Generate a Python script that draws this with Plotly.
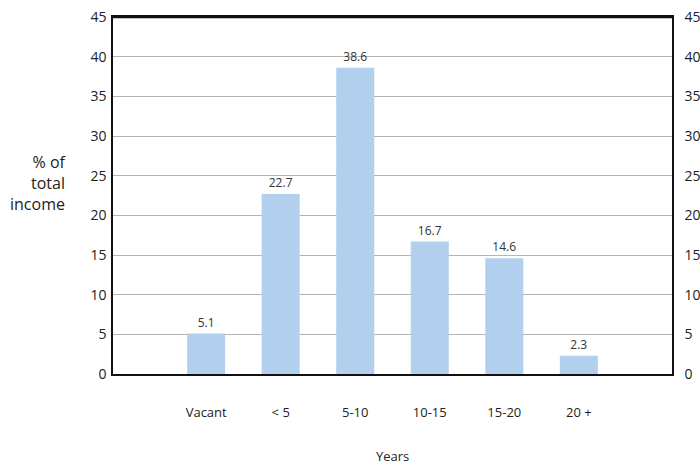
import plotly.graph_objects as go

# Share of total income by years remaining
categories = ["Vacant", "< 5", "5-10", "10-15", "15-20", "20 +"]
values = [5.1, 22.7, 38.6, 16.7, 14.6, 2.3]
y_ticks = [0, 5, 10, 15, 20, 25, 30, 35, 40, 45]

FONT = "Open Sans, Lato, sans-serif"
TEXT = "#222222"

fig = go.Figure()
fig.add_trace(go.Bar(
    x=categories,
    y=values,
    width=0.51,
    marker=dict(color="#b3cfee", line=dict(width=0)),
    text=[f"{v:.1f}" for v in values],
    textposition="outside",
    textfont=dict(family=FONT, size=12, color="#333333"),
    cliponaxis=False,
    showlegend=False,
    hoverinfo="x+y",
))
# Invisible companion trace so the right-hand axis is drawn
fig.add_trace(go.Scatter(
    x=categories, y=values, yaxis="y2", mode="markers",
    marker=dict(opacity=0), showlegend=False, hoverinfo="skip",
))

fig.update_layout(
    width=700, height=465,
    margin=dict(l=113, r=28, t=17, b=91),
    paper_bgcolor="white", plot_bgcolor="white",
    font=dict(family=FONT, color=TEXT),
    xaxis=dict(
        range=[-1.25, 5 + 1.25],
        showline=True, linecolor="#111111", linewidth=1.5, mirror=True,
        ticks="", showgrid=False, automargin=False,
        tickfont=dict(size=13, color=TEXT),
        ticklabelstandoff=26,
    ),
    yaxis=dict(
        range=[0, 45], tickvals=y_ticks, automargin=False,
        showline=True, linecolor="#111111", linewidth=1.5,
        showgrid=True, gridcolor="#b4b4b4", gridwidth=1,
        zeroline=False, ticks="",
        tickfont=dict(size=14, color=TEXT),
        ticklabelstandoff=2,
    ),
    yaxis2=dict(
        range=[0, 45], tickvals=y_ticks, overlaying="y", side="right",
        automargin=False,
        showline=True, linecolor="#111111", linewidth=1.5,
        showgrid=False, zeroline=False, ticks="",
        tickfont=dict(size=14, color=TEXT),
        ticklabelstandoff=8,
    ),
    annotations=[
        dict(
            text="% of<br>total<br>income",
            xref="paper", yref="paper", x=-0.078, y=0.535,
            xanchor="right", yanchor="middle", align="right",
            showarrow=False, font=dict(size=16, color=TEXT),
        ),
        dict(
            text="Years",
            xref="paper", yref="paper", x=0.5, y=-0.23,
            xanchor="center", yanchor="middle",
            showarrow=False, font=dict(size=13, color=TEXT),
        ),
    ],
)

# Heavy top border of the plot frame
fig.add_shape(type="line", xref="paper", yref="paper", x0=0, x1=1, y0=1, y1=1,
              line=dict(color="#111111", width=2.5))

fig.write_html("out.html")
